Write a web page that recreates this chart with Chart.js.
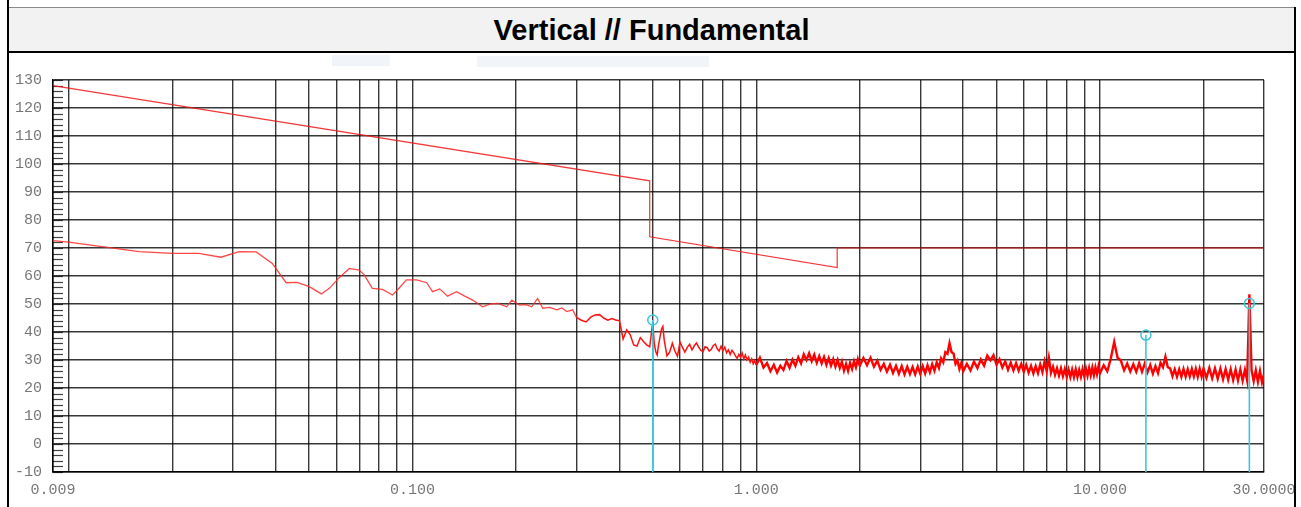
<!DOCTYPE html>
<html>
<head>
<meta charset="utf-8">
<script src="https://cdn.jsdelivr.net/npm/chart.js@4.4.1/dist/chart.umd.min.js"></script>
<style>
  html, body { margin: 0; padding: 0; background: #fff; }
  body { width: 1301px; height: 507px; position: relative; overflow: hidden; font-family: "Liberation Sans", Arial, sans-serif; }
  .edge-left { position: absolute; left: 7px; top: 0; width: 2px; height: 507px; background: #000; }
  .edge-right { position: absolute; left: 1294px; top: 7px; width: 2px; height: 500px; background: #000; }
  .cap { position: absolute; left: 9px; top: 7px; width: 1285px; height: 43px; background: #f2f2f2;
         border-top: 1px solid #8a8a8a; border-bottom: 2px solid #000; text-align: center;
         font-weight: bold; font-size: 29px; line-height: 44px; color: #000; }
  .shade { position: absolute; background: #f1f4f9; }
  #wrap { position: absolute; left: 10px; top: 53px; width: 1284px; height: 454px; }
</style>
</head>
<body>
<div class="edge-left"></div>
<div class="cap">Vertical // Fundamental</div>
<div class="shade" style="left:332px;top:55px;width:58px;height:11px"></div>
<div class="shade" style="left:477px;top:56px;width:232px;height:11px"></div>
<div id="wrap"><canvas id="emiChart"></canvas></div>
<div class="edge-right"></div>

<script>
// axis setup (MHz / dBuV)
const xMin = 0.009, xMax = 30;
const yMin = -10, yMax = 130, yStep = 10, yMinorStep = 2;
const xGridMHz = [0.009, 0.01, 0.02, 0.03, 0.04, 0.05, 0.06, 0.07, 0.08, 0.09,
  0.1, 0.2, 0.3, 0.4, 0.5, 0.6, 0.7, 0.8, 0.9,
  1, 2, 3, 4, 5, 6, 7, 8, 9, 10, 20, 30];
const xLabelText = { 0.009: '0.009', 0.1: '0.100', 1: '1.000', 10: '10.000', 30: '30.0000' };

// limit line [MHz, dBuV]
const limitLine = [[0.009, 128], [0.49, 94], [0.49, 74], [1.72, 63], [1.72, 70], [30, 70]];

// measured trace, 9 kHz - 300 kHz (smooth part)
const traceLow = [
  [0.009, 72.6], [0.010, 72.1], [0.016, 68.7], [0.020, 68.1], [0.0239, 68.1], [0.0277, 66.7],
  [0.0313, 68.7], [0.0351, 68.6], [0.0391, 64.5], [0.0429, 57.6], [0.0462, 57.7], [0.0501, 56.2],
  [0.0543, 53.6], [0.0573, 55.6], [0.0613, 59.5], [0.0655, 62.7], [0.0700, 62.1], [0.0724, 60.4],
  [0.0764, 55.6], [0.0818, 55.2], [0.0875, 53.2], [0.0904, 55.0], [0.0961, 58.6], [0.1028, 58.6],
  [0.110, 57.6], [0.1144, 54.4], [0.120, 55.4], [0.1265, 52.8], [0.1343, 54.4], [0.141, 53.0],
  [0.1496, 51.4], [0.160, 49.0], [0.1687, 50.0], [0.177, 50.2], [0.188, 49.0], [0.1944, 51.4],
  [0.205, 49.6], [0.2135, 49.8], [0.2223, 49.0], [0.2312, 52.0], [0.2393, 48.5], [0.2507, 48.8],
  [0.263, 47.9], [0.2719, 48.6], [0.281, 47.3], [0.2925, 47.9], [0.30, 45.2]
];

// measured trace, 300 kHz - 1 MHz
const traceMid = [
  [0.30, 45.2], [0.31, 44.2], [0.32, 43.6], [0.33, 45.3], [0.34, 46.1], [0.35, 46.2], [0.36, 45.0],
  [0.37, 44.2], [0.38, 44.8], [0.39, 44.3], [0.40, 44.0], [0.41, 37.5], [0.42, 40.8], [0.43, 39.0],
  [0.44, 35.4], [0.45, 35.0], [0.46, 38.0], [0.47, 36.6], [0.48, 35.4], [0.49, 34.7], [0.50, 43.5],
  [0.505, 35.9], [0.51, 33.0], [0.515, 31.8], [0.52, 35.5], [0.53, 41.0], [0.535, 42.0], [0.54, 37.0],
  [0.55, 31.5], [0.56, 32.8], [0.57, 36.0], [0.58, 33.2], [0.59, 31.3], [0.60, 36.4], [0.61, 34.5],
  [0.62, 32.8], [0.63, 34.5], [0.64, 35.6], [0.65, 33.6], [0.66, 35.0], [0.67, 36.1], [0.68, 34.6],
  [0.69, 33.4], [0.70, 33.0], [0.71, 34.7], [0.72, 34.4], [0.73, 33.2], [0.74, 33.8], [0.75, 35.2],
  [0.76, 35.7], [0.77, 34.0], [0.78, 33.2], [0.79, 34.9], [0.80, 33.3], [0.81, 34.6], [0.82, 32.6],
  [0.83, 33.6], [0.84, 32.0], [0.85, 33.5], [0.86, 32.6], [0.87, 31.5], [0.88, 30.6], [0.89, 32.0],
  [0.90, 31.0], [0.91, 32.5], [0.92, 30.4], [0.93, 31.8], [0.94, 30.0], [0.95, 31.0], [0.96, 29.2],
  [0.97, 30.4], [0.98, 28.6], [0.99, 29.8], [1.00, 28.2]
];

// measured trace, 1 MHz - 30 MHz (noise band)
const traceHigh = [
  [1.00, 28.2],
  [1.025, 30.8], [1.05, 27.3], [1.075, 28.9], [1.1, 26.0], [1.125, 28.3], [1.15, 25.5], [1.175, 27.9],
  [1.2, 26.4], [1.225, 29.6], [1.25, 27.2], [1.275, 30.1], [1.3, 27.9], [1.325, 31.0], [1.35, 28.8],
  [1.375, 32.0], [1.4, 30.0], [1.425, 32.4], [1.45, 29.6], [1.475, 31.9], [1.5, 29.0], [1.525, 31.4],
  [1.55, 28.8], [1.575, 31.1], [1.6, 28.3], [1.625, 30.7], [1.65, 28.0], [1.675, 30.3], [1.7, 27.6],
  [1.725, 30.0], [1.75, 27.2], [1.775, 29.4], [1.8, 26.2], [1.825, 28.6], [1.85, 26.1], [1.875, 29.0],
  [1.9, 26.8], [1.925, 29.6], [1.95, 27.4], [1.975, 30.3], [2.0, 28.0],
  [2.05, 30.7], [2.1, 28.1], [2.15, 30.8], [2.2, 27.6], [2.25, 29.8], [2.3, 26.5], [2.35, 28.6],
  [2.4, 25.8], [2.45, 28.3], [2.5, 25.4], [2.55, 27.9], [2.6, 25.1], [2.65, 27.8], [2.7, 24.9],
  [2.75, 27.6], [2.8, 25.0], [2.85, 27.5], [2.9, 24.9], [2.95, 27.7], [3.0, 25.1], [3.05, 27.8],
  [3.1, 25.2], [3.15, 28.1], [3.2, 25.6], [3.25, 28.5], [3.3, 26.2], [3.35, 29.2], [3.4, 27.2],
  [3.45, 30.6], [3.5, 29.2], [3.55, 32.8], [3.6, 32.2], [3.65, 36.0], [3.7, 32.8], [3.75, 32.3],
  [3.8, 28.6], [3.85, 29.8], [3.9, 26.8], [3.95, 28.9], [4.0, 26.0],
  [4.1, 28.6], [4.2, 26.3], [4.3, 29.4], [4.4, 27.1], [4.5, 30.2], [4.6, 28.0], [4.7, 31.6],
  [4.8, 29.9], [4.9, 31.7], [5.0, 28.3], [5.1, 30.3], [5.2, 27.3], [5.3, 29.5], [5.4, 26.5],
  [5.5, 29.0], [5.6, 26.3], [5.7, 28.9], [5.8, 26.2], [5.9, 28.6], [6.0, 25.8], [6.1, 28.3],
  [6.2, 25.5], [6.3, 27.9], [6.4, 25.2], [6.5, 27.8], [6.6, 25.3], [6.7, 28.4], [6.8, 25.7],
  [6.9, 29.5], [7.0, 26.0], [7.1, 30.8], [7.2, 25.4], [7.3, 27.6], [7.4, 24.7], [7.5, 27.1],
  [7.6, 24.4], [7.7, 27.0], [7.8, 24.2], [7.9, 26.8], [8.0, 24.0], [8.1, 26.6], [8.2, 23.9],
  [8.3, 26.6], [8.4, 23.9], [8.5, 26.7], [8.6, 23.9], [8.7, 26.5], [8.8, 24.0], [8.9, 26.8],
  [9.0, 24.2], [9.1, 27.0], [9.2, 24.4], [9.3, 27.2], [9.4, 24.5], [9.5, 27.3], [9.6, 24.6],
  [9.7, 27.4], [9.8, 24.9], [9.9, 27.8], [10.0, 25.3],
  [10.25, 28.1], [10.5, 26.0], [10.75, 30.5], [11.0, 36.5], [11.25, 30.8], [11.5, 29.8], [11.75, 26.3],
  [12.0, 28.7], [12.25, 25.9], [12.5, 28.5], [12.75, 25.8], [13.0, 28.9], [13.25, 25.8], [13.5, 28.8],
  [13.75, 25.6], [14.0, 28.2], [14.25, 25.1], [14.5, 27.8], [14.75, 25.3], [15.0, 29.0], [15.25, 27.4],
  [15.5, 31.2], [15.75, 27.4], [16.0, 27.0], [16.25, 24.2], [16.5, 26.7], [16.75, 24.0], [17.0, 26.7],
  [17.25, 24.0], [17.5, 26.8], [17.75, 24.0], [18.0, 26.7], [18.25, 24.1], [18.5, 26.8], [18.75, 24.1],
  [19.0, 26.9], [19.25, 24.0], [19.5, 26.9], [19.75, 24.1], [20.0, 26.9],
  [20.4, 23.6], [20.8, 27.2], [21.2, 23.5], [21.6, 27.0], [22.0, 23.3], [22.4, 26.9], [22.8, 23.1],
  [23.2, 26.8], [23.6, 23.0], [24.0, 26.7], [24.4, 22.8], [24.8, 26.6], [25.2, 22.7], [25.6, 26.6],
  [26.0, 22.6], [26.4, 26.5], [26.8, 22.6], [27.2, 53.5], [27.6, 26.4], [28.0, 22.4], [28.4, 26.3],
  [28.8, 22.2], [29.2, 26.1], [29.6, 22.0], [30.0, 25.0]
];

// markers
const markerMHz = [0.5, 13.6, 27.2];
const markerDb = [44.3, 38.9, 50.2];

const toXY = pairs => pairs.map(p => ({ x: p[0], y: p[1] }));
const markerColor = '#3ec6d6';

const markerSets = markerMHz.map((f, i) => ({
    data: [{ x: f, y: yMin }, { x: f, y: markerDb[i] }],
    borderColor: markerColor,
    borderWidth: 1.6,
    pointRadius: [0, 5],
    pointBorderColor: markerColor,
    pointBorderWidth: 1.5,
    pointBackgroundColor: 'rgba(0,0,0,0)',
    order: 0,
}));

// short minor ticks on the inside of the left axis
const minorTicks = {
    id: 'minorTicks',
    beforeDatasetsDraw(chart) {
        const y = chart.scales.y;
        const left = chart.chartArea.left;
        const c = chart.ctx;
        c.save();
        c.strokeStyle = 'rgba(0,0,0,0.75)';
        c.lineWidth = 1.2;
        for (let v = yMin; v <= yMax; v += yMinorStep) {
            const py = Math.round(y.getPixelForValue(v)) + 0.5;
            c.beginPath();
            c.moveTo(left, py);
            c.lineTo(left + 10, py);
            c.stroke();
        }
        c.restore();
    }
};

const tickFont = { family: "'Liberation Mono', 'Courier New', monospace", size: 15 };

new Chart(document.getElementById('emiChart'), {
    type: 'line',
    data: {
        datasets: [
            ...markerSets,
            {
                data: toXY(limitLine),
                borderColor: 'rgba(240,20,20,0.85)',
                borderWidth: 1.2,
                pointRadius: 0,
                order: 1,
            },
            {
                data: toXY(traceLow),
                borderColor: 'rgba(255,40,40,0.85)',
                borderWidth: 1.3,
                pointRadius: 0,
                order: 2,
            },
            {
                data: toXY(traceMid),
                borderColor: '#ff1010',
                borderWidth: 1.5,
                pointRadius: 0,
                order: 2,
            },
            {
                data: toXY(traceHigh),
                borderColor: '#ff0000',
                borderWidth: 2.4,
                pointRadius: 0,
                order: 2,
            },
        ],
    },
    options: {
        responsive: true,
        maintainAspectRatio: false,
        animation: false,
        layout: { padding: { top: 27, right: 0, left: 0, bottom: 0 } },
        plugins: { legend: { display: false }, tooltip: { enabled: false } },
        scales: {
            x: {
                type: 'logarithmic',
                min: xMin,
                max: xMax,
                afterBuildTicks: (scale) => { scale.ticks = xGridMHz.map(v => ({ value: v })); },
                afterFit: (scale) => { scale.height = 35; scale.paddingRight = 30; scale.paddingLeft = 0; },
                grid: { color: 'rgba(0,0,0,0.78)', lineWidth: 1.4, drawTicks: false },
                border: { color: '#000', width: 1.5 },
                ticks: {
                    autoSkip: false,
                    maxRotation: 0,
                    padding: 9,
                    font: tickFont,
                    color: '#777',
                    callback: (v) => xLabelText[v] ?? '',
                },
            },
            y: {
                min: yMin,
                max: yMax,
                afterFit: (scale) => { scale.width = 43; },
                grid: { color: 'rgba(0,0,0,0.78)', lineWidth: 1.4, drawTicks: false },
                border: { color: '#000', width: 1.5 },
                ticks: { stepSize: yStep, padding: 11, font: tickFont, color: '#777' },
            },
        },
    },
    plugins: [minorTicks],
});
</script>
</body>
</html>
